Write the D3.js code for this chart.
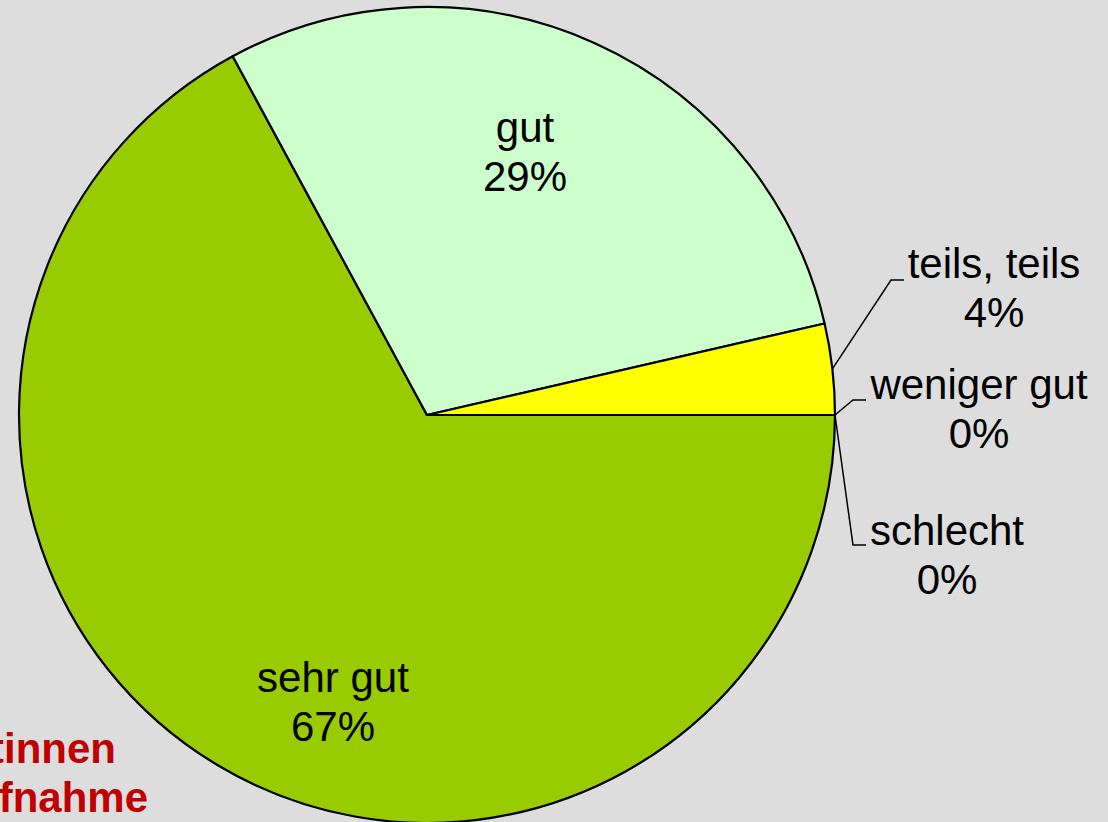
<!DOCTYPE html>
<html>
<head>
<meta charset="utf-8">
<script src="https://cdn.jsdelivr.net/npm/d3@7"></script>
<style>
  html, body { margin: 0; padding: 0; background: #DDDDDD; overflow: hidden; }
  svg { display: block; }
  text { font-family: "Liberation Sans", Arial, sans-serif; }
</style>
</head>
<body>
<svg id="chart" width="1108" height="822"></svg>
<script>
// ---- data ----
const categories = ["sehr gut", "gut", "teils, teils", "weniger gut", "schlecht"];
const values = [67.1, 29.3, 3.6, 0, 0];
const colors = ["#99CC00", "#CCFFCC", "#FFFF00", "#FF9900", "#FF0000"];
const titleLines = ["tinnen", "fnahme"];

// ---- layout ----
const W = 1108, H = 822;
const cx = 427, cy = 415, R = 408;
const svg = d3.select("#chart");
svg.append("rect").attr("width", W).attr("height", H).attr("fill", "#DDDDDD");

const data = categories.map((c, i) => ({ cat: c, value: values[i], color: colors[i] }));
const pie = d3.pie().value(d => d.value).sort(null)
  .startAngle(Math.PI / 2).endAngle(Math.PI / 2 + 2 * Math.PI);
const arcs = pie(data);
const arc = d3.arc().innerRadius(0).outerRadius(R);

const g = svg.append("g").attr("transform", `translate(${cx},${cy})`);
g.selectAll("path.slice")
  .data(arcs.filter(a => a.data.value > 0))
  .join("path")
  .attr("class", "slice")
  .attr("d", arc)
  .attr("fill", d => d.data.color)
  .attr("stroke", "#000")
  .attr("stroke-width", 2.2)
  .attr("stroke-linejoin", "round");

// label placement (text block centre x, first baseline y), relative to the page
const labelPos = {
  "sehr gut":    { x: 333, y: 692, leader: null },
  "gut":         { x: 525, y: 142, leader: null },
  "teils, teils":{ x: 994, y: 278, leader: { bx: 891, by: 280, ex: 904 } },
  "weniger gut": { x: 979, y: 399, leader: { bx: 853, by: 400, ex: 866 } },
  "schlecht":    { x: 947, y: 545, leader: { bx: 853, by: 545, ex: 866 } }
};
const lineH = 49;

const labels = svg.append("g");
arcs.forEach(a => {
  const p = labelPos[a.data.cat];
  const pct = Math.round(a.data.value) + "%";
  const t = labels.append("text")
    .attr("text-anchor", "middle")
    .attr("font-size", 42)
    .attr("fill", "#000");
  t.append("tspan").attr("x", p.x).attr("y", p.y).text(a.data.cat);
  t.append("tspan").attr("x", p.x).attr("y", p.y + lineH).text(pct);
  if (p.leader) {
    const mid = (a.startAngle + a.endAngle) / 2;
    const sx = cx + R * Math.sin(mid), sy = cy - R * Math.cos(mid);
    labels.append("path")
      .attr("d", `M${sx},${sy}L${p.leader.bx},${p.leader.by}L${p.leader.ex},${p.leader.by}`)
      .attr("fill", "none")
      .attr("stroke", "#000")
      .attr("stroke-width", 1.5);
  }
});

// partially visible title text at the lower left
const title = svg.append("text")
  .attr("text-anchor", "end")
  .attr("font-size", 42)
  .attr("font-weight", "bold")
  .attr("fill", "#C00000");
title.append("tspan").attr("x", 116).attr("y", 763).text(titleLines[0]);
title.append("tspan").attr("x", 148).attr("y", 812).text(titleLines[1]);
</script>
</body>
</html>
